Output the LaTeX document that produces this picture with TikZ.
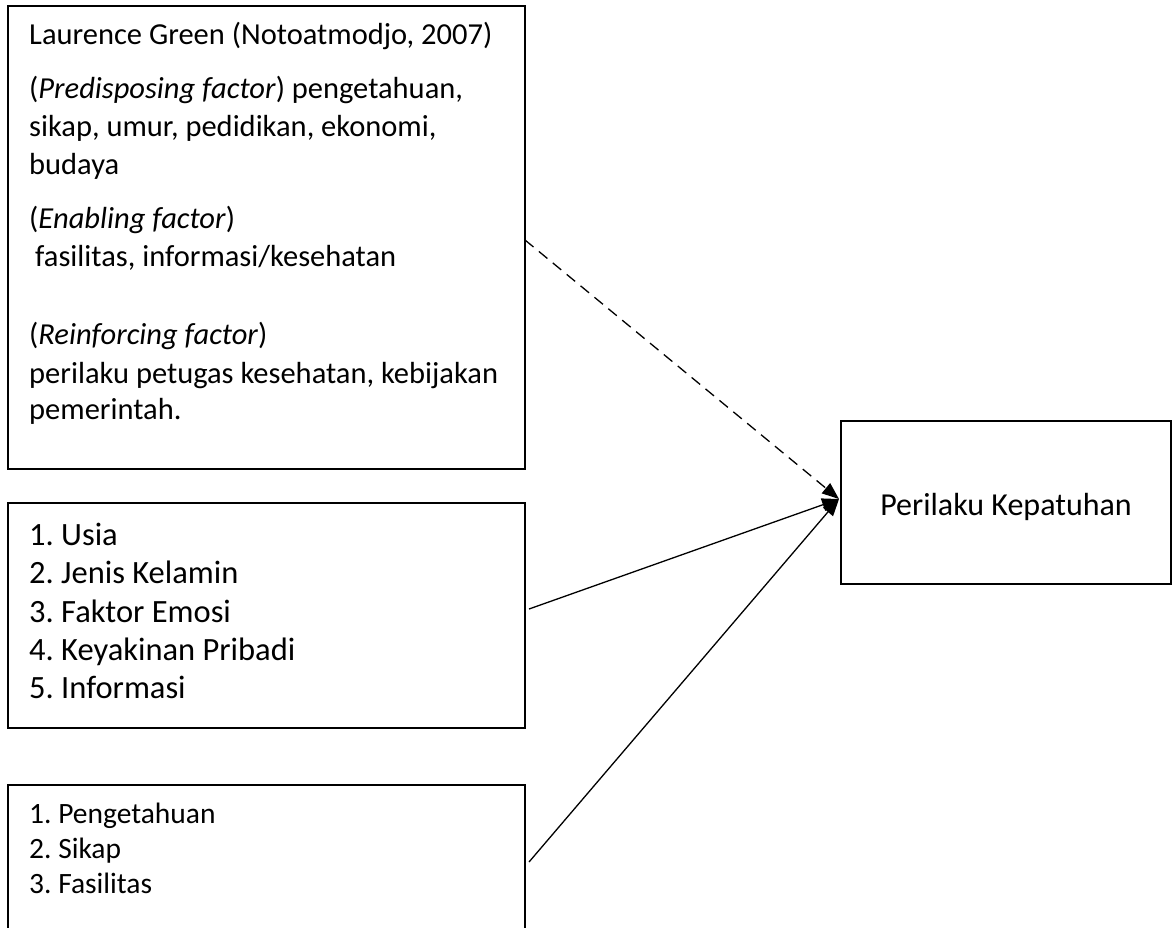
\documentclass[tikz,border=0pt]{standalone}
\usepackage{fontspec}
\setmainfont{Carlito}
\usetikzlibrary{arrows.meta}
\frenchspacing
\tikzset{
  boxframe/.style={draw=black, line width=1.6pt, fill=none},
  txtA/.style={anchor=base west, inner sep=0pt, font=\fontsize{30.5}{34}\selectfont},
  txtB/.style={anchor=base west, inner sep=0pt, font=\fontsize{32.5}{38}\selectfont},
  txtC/.style={anchor=base west, inner sep=0pt, font=\fontsize{29.5}{34}\selectfont},
  txtD/.style={anchor=base, inner sep=0pt, font=\fontsize{32}{36}\selectfont},
  conn/.style={draw=black, line width=1.3pt, -{Triangle[length=17pt,width=13pt]}},
}
\begin{document}
\begin{tikzpicture}[x=1pt,y=-1pt]
\useasboundingbox (0,0) rectangle (1172,927);
\clip (0,0) rectangle (1172,927);
\fill[white] (0,0) rectangle (1172,927);
% boxes
\draw[boxframe] (8,6) rectangle (525,469);
\draw[boxframe] (8,503) rectangle (525,728);
\draw[boxframe] (8,785) rectangle (525,960);
\draw[boxframe] (841,421) rectangle (1171,584);
% named anchor coordinates on the boxes
\coordinate (b1) at (525,240);
\coordinate (b2) at (529,609);
\coordinate (b3) at (529,862);
\coordinate (b4) at (839,499);
% box 1 text
\node[txtA] (a1) at (29,44) {Laurence Green (Notoatmodjo, 2007)};
\node[txtA] (a2) at (29,98) {(\textit{Predisposing factor}) pengetahuan,};
\node[txtA] (a3) at (29,136) {sikap, umur, pedidikan, ekonomi,};
\node[txtA] (a4) at (29,174) {budaya};
\node[txtA] (a5) at (29,228) {(\textit{Enabling factor})};
\node[txtA] (a6) at (35,266) {fasilitas, informasi/kesehatan};
\node[txtA] (a7) at (29,344) {(\textit{Reinforcing factor})};
\node[txtA] (a8) at (29,383) {perilaku petugas kesehatan, kebijakan};
\node[txtA] (a9) at (29,419) {pemerintah.};
% box 2 text
\node[txtB] (c1) at (29,545) {1. Usia};
\node[txtB] (c2) at (29,583) {2. Jenis Kelamin};
\node[txtB] (c3) at (29,622) {3. Faktor Emosi};
\node[txtB] (c4) at (29,660) {4. Keyakinan Pribadi};
\node[txtB] (c5) at (29,698) {5. Informasi};
% box 3 text
\node[txtC] (d1) at (29,823) {1. Pengetahuan};
\node[txtC] (d2) at (29,858) {2. Sikap};
\node[txtC] (d3) at (29,893) {3. Fasilitas};
% box 4 text
\node[txtD] (e1) at (1006,515) {Perilaku Kepatuhan};
% connectors
\draw[conn, dash pattern=on 11pt off 7pt] (b1) -- (b4);
\draw[conn] (b2) -- (b4);
\draw[conn] (b3) -- (b4);
\end{tikzpicture}
\end{document}
